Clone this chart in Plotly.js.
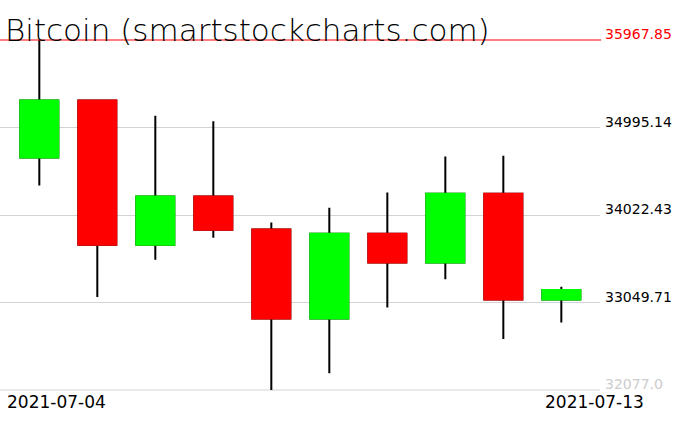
<!DOCTYPE html>
<html>
<head>
<meta charset="utf-8">
<script src="https://cdn.plot.ly/plotly-3.0.1.min.js"></script>
<style>
  html, body { margin: 0; padding: 0; background: #fff; }
  #chart { width: 676px; height: 431px; }
</style>
</head>
<body>
<div id="chart"></div>
<script>
// ---- data ----
const titleText = 'Bitcoin (smartstockcharts.com)';
const dates  = ['2021-07-04','2021-07-05','2021-07-06','2021-07-07','2021-07-08',
                '2021-07-09','2021-07-10','2021-07-11','2021-07-12','2021-07-13'];
const openV  = [34663, 35294, 33691, 34229, 33862, 32871, 33814, 33494, 34259, 33082];
const highV  = [35967.85, 35296, 35127, 35064, 33939, 34103, 34273, 34674, 34682, 33224];
const lowV   = [34351, 33112, 33524, 33769, 32077.0, 32263, 32993, 33309, 32645, 32826];
const closeV = [35294, 33691, 34229, 33858, 32871, 33814, 33494, 34259, 33082, 33190];
const yTickVals = [32077.0, 33049.71, 34022.43, 34995.14, 35967.85];
const yTickText = ['32077.0', '33049.71', '34022.43', '34995.14', '35967.85'];
const dateLabels = [dates[0], dates[dates.length - 1]];

// ---- derived ----
const bodyHigh = openV.map((o, i) => Math.max(o, closeV[i]));
const bodyLow  = openV.map((o, i) => Math.min(o, closeV[i]));
const GREEN = '#00ff00', RED = '#ff0000';

const wicks = {
  type: 'candlestick', x: dates, open: openV, high: highV, low: lowV, close: closeV,
  increasing: { line: { color: '#000000', width: 2 }, fillcolor: '#000000' },
  decreasing: { line: { color: '#000000', width: 2 }, fillcolor: '#000000' },
  whiskerwidth: 0, hoverinfo: 'skip', showlegend: false
};
const bodies = {
  type: 'candlestick', x: dates, open: openV, high: bodyHigh, low: bodyLow, close: closeV,
  increasing: { line: { color: GREEN, width: 2 }, fillcolor: GREEN },
  decreasing: { line: { color: RED, width: 2 }, fillcolor: RED },
  whiskerwidth: 0, hoverinfo: 'skip', showlegend: false
};

const last = yTickVals.length - 1;
const yAnnots = yTickVals.map((v, i) => ({
  xref: 'paper', x: 1, xanchor: 'left', xshift: 3,
  yref: 'y', y: v, yanchor: 'bottom', yshift: -4,
  text: yTickText[i], showarrow: false,
  font: { family: 'DejaVu Sans', size: 14,
          color: i === last ? RED : (i === 0 ? '#cccccc' : '#000000') }
}));
const dateShifts = [17, 33];
const dAnnots = dateLabels.map((d, i) => ({
  xref: 'x', x: d, xanchor: 'center', xshift: dateShifts[i],
  yref: 'paper', y: 0, yanchor: 'top', yshift: 0,
  text: d, showarrow: false,
  font: { family: 'DejaVu Sans', size: 17, color: '#000000' }
}));

const layout = {
  width: 676, height: 431,
  margin: { l: 0, r: 76, t: 40, b: 41, pad: 0 },
  paper_bgcolor: '#ffffff', plot_bgcolor: '#ffffff',
  showlegend: false,
  boxgap: 0.345, boxgroupgap: 0, boxmode: 'overlay',
  title: {
    text: titleText,
    font: { family: 'DejaVu Sans', size: 31, weight: 200, color: '#000000' },
    xref: 'container', x: 5 / 676, xanchor: 'left',
    yref: 'container', y: 1 - 41 / 431, yanchor: 'bottom'
  },
  xaxis: {
    type: 'date', range: ['2021-07-03 07:44', '2021-07-13 16:00'],
    rangeslider: { visible: false },
    showgrid: false, zeroline: false, showline: false,
    showticklabels: false, ticks: ''
  },
  yaxis: {
    range: [yTickVals[0], yTickVals[last]],
    tickvals: yTickVals, showticklabels: false, ticks: '',
    showgrid: true, gridcolor: '#d3d3d3', gridwidth: 1,
    zeroline: false, showline: false
  },
  shapes: [{
    type: 'line', xref: 'paper', yref: 'paper', x0: 0, x1: 1.002, y0: 1, y1: 1,
    line: { color: RED, width: 1 }
  }, {
    type: 'line', xref: 'paper', yref: 'paper', x0: 0, x1: 1, y0: 0, y1: 0,
    line: { color: '#d3d3d3', width: 1 }, layer: 'below'
  }],
  annotations: yAnnots.concat(dAnnots)
};

Plotly.newPlot('chart', [wicks, bodies], layout, { displayModeBar: false, staticPlot: true });
</script>
</body>
</html>
